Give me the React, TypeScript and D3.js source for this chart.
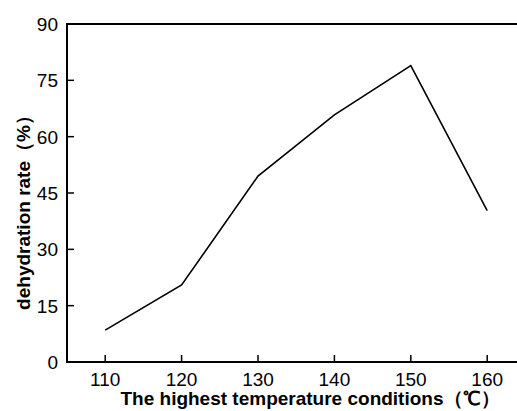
import * as d3 from "d3";

const temps = [110, 120, 130, 140, 150, 160];
const rates = [8.5, 20.5, 49.5, 65.8, 78.9, 40.3];
const yTicks = [0, 15, 30, 45, 60, 75, 90];

const W = 517;
const H = 411;
const m = { left: 67, top: 24, bottom: 362 };

export default function App() {
  const x = d3.scaleLinear().domain([105, 165]).range([m.left, m.left + 60 * 7.64]);
  const y = d3.scaleLinear().domain([0, 90]).range([m.bottom, m.top]);
  const line = d3
    .line<number>()
    .x((_, i) => x(temps[i]))
    .y((d) => y(d));

  return (
    <svg
      width={W}
      height={H}
      style={{ position: "absolute", left: 0, top: 0, background: "#fff" }}
      fontFamily="Liberation Sans, Arial, sans-serif"
    >
      {/* axes */}
      <line x1={m.left} x2={W} y1={m.top} y2={m.top} stroke="#000" strokeWidth={2} />
      <line x1={m.left} x2={W} y1={m.bottom} y2={m.bottom} stroke="#000" strokeWidth={2} />
      <line x1={m.left} x2={m.left} y1={m.top - 1} y2={m.bottom + 1} stroke="#000" strokeWidth={2} />

      {yTicks.map((t) => (
        <g key={t}>
          {t > 0 && t < 90 && (
            <line x1={m.left} x2={m.left + 7} y1={y(t)} y2={y(t)} stroke="#000" strokeWidth={1.5} />
          )}
          <text x={58} y={y(t)} dy="0.36em" textAnchor="end" fontSize={19} fill="#000">
            {t}
          </text>
        </g>
      ))}

      {temps.map((t) => (
        <g key={t}>
          <line x1={x(t)} x2={x(t)} y1={m.bottom} y2={m.bottom - 7} stroke="#000" strokeWidth={1.5} />
          <text x={x(t)} y={386} textAnchor="middle" fontSize={19} fill="#000">
            {t}
          </text>
        </g>
      ))}

      <path d={line(rates) ?? ""} fill="none" stroke="#000" strokeWidth={1.6} />

      <text
        x={310}
        y={405}
        textAnchor="middle"
        fontSize={19}
        fontWeight="bold"
        fill="#000"
      >
        The highest temperature conditions（℃）
      </text>
      <text
        transform={`translate(30, ${208}) rotate(-90)`}
        textAnchor="middle"
        fontSize={19}
        fontWeight="bold"
        fill="#000"
      >
        dehydration rate（%）
      </text>
    </svg>
  );
}
